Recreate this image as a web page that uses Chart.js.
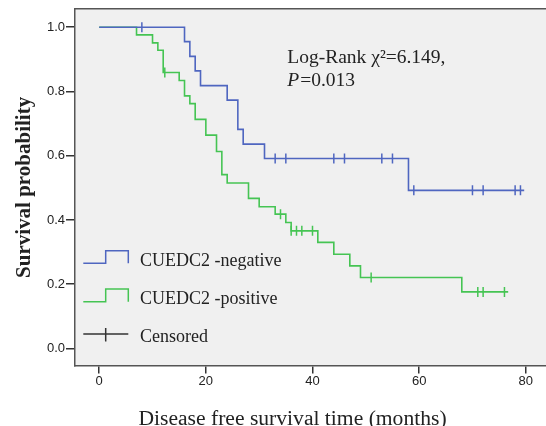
<!DOCTYPE html>
<html>
<head>
<meta charset="utf-8">
<script src="https://cdn.jsdelivr.net/npm/chart.js@4.4.1/dist/chart.umd.min.js"></script>
<style>
  html, body { margin: 0; padding: 0; background: #fff; }
  #wrap { width: 546px; height: 426px; }
</style>
</head>
<body>
<div id="wrap"><canvas id="kmChart" width="546" height="426"></canvas></div>
<script>
// 생존곡선 데이터
const negTimes = [0, 16, 17, 18, 19, 24, 26, 27, 31, 58, 79.7];
const negSurv  = [1, 0.955, 0.909, 0.864, 0.818, 0.773, 0.682, 0.636, 0.591, 0.492, 0.492];
const negCensorTimes = [8, 33, 35, 44, 46, 53, 55, 59, 70, 72, 78, 79];

const posTimes = [0, 7, 10, 11, 12, 15, 16, 17, 18, 20, 22, 23, 24, 28, 30, 33, 35, 36, 41, 44, 47, 49, 68, 76.7];
const posSurv  = [1, 0.976, 0.951, 0.928, 0.859, 0.834, 0.786, 0.762, 0.713, 0.664, 0.613, 0.541, 0.515,
                  0.467, 0.441, 0.418, 0.392, 0.366, 0.330, 0.293, 0.257, 0.221, 0.176, 0.176];
const posCensorTimes = [12.3, 34, 36, 37, 38, 40, 51, 71, 72, 76];

const xTicks = [0, 20, 40, 60, 80];
const yTicks = [0, 0.2, 0.4, 0.6, 0.8, 1.0];

const seriesLabels = ['CUEDC2 -negative', 'CUEDC2 -positive', 'Censored'];
const statLine1 = 'Log-Rank \u03C7\u00B2=6.149,';
const statLine2 = '=0.013';

const BLUE = '#4f66c0';
const GREEN = '#45c453';
const SERIF = '"Liberation Serif", "DejaVu Serif", serif';

// 계단 함수 값 찾기 (검열 표시 위치용)
function survAt(times, surv, t) {
    let s = surv[0];
    for (let i = 0; i < times.length; i++) {
        if (times[i] <= t) s = surv[i];
    }
    return s;
}

const toPoints = (ts, ss) => ts.map((t, i) => ({ x: t, y: ss[i] }));
const censorPoints = (cts, ts, ss) => cts.map(t => ({ x: t, y: survAt(ts, ss, t) }));

// 배경, 테두리, 범례, 통계 문구 그리기
const decorPlugin = {
    id: 'decor',
    beforeDraw(chart) {
        const { ctx, chartArea: a } = chart;
        ctx.save();
        ctx.fillStyle = '#f0f0f0';
        ctx.fillRect(a.left, a.top, a.right - a.left, a.bottom - a.top);
        ctx.restore();
    },
    afterDraw(chart) {
        const { ctx, chartArea: a } = chart;
        ctx.save();
        // 위쪽 테두리
        ctx.strokeStyle = '#555';
        ctx.lineWidth = 1.5;
        ctx.beginPath();
        ctx.moveTo(a.left, a.top);
        ctx.lineTo(a.right, a.top);
        ctx.stroke();

        // 범례
        const x0 = 83.3, xm = 105.7, x1 = 128.3;
        const stepSym = (color, low, high) => {
            ctx.strokeStyle = color;
            ctx.lineWidth = 1.5;
            ctx.beginPath();
            ctx.moveTo(x0, low);
            ctx.lineTo(xm, low);
            ctx.lineTo(xm, high);
            ctx.lineTo(x1, high);
            ctx.lineTo(x1, low);
            ctx.stroke();
        };
        stepSym(BLUE, 263.3, 250.7);
        stepSym(GREEN, 301.7, 289);
        ctx.strokeStyle = '#333';
        ctx.beginPath();
        ctx.moveTo(x0, 334);
        ctx.lineTo(x1, 334);
        ctx.moveTo(xm, 328);
        ctx.lineTo(xm, 341.5);
        ctx.stroke();

        ctx.fillStyle = '#222';
        ctx.font = '18px ' + SERIF;
        ctx.textAlign = 'left';
        ctx.textBaseline = 'alphabetic';
        ctx.fillText(seriesLabels[0], 140, 266);
        ctx.fillText(seriesLabels[1], 140, 304.3);
        ctx.fillText(seriesLabels[2], 140, 342.3);

        // 통계 문구
        ctx.font = '19.5px ' + SERIF;
        ctx.fillText(statLine1, 287.3, 63);
        ctx.font = 'italic 19.5px ' + SERIF;
        ctx.fillText('P', 287.3, 85.5);
        const pw = ctx.measureText('P').width;
        ctx.font = '19.5px ' + SERIF;
        ctx.fillText(statLine2, 287.3 + pw + 1, 85.5);

        // x축 제목
        ctx.font = '21.6px ' + SERIF;
        ctx.textAlign = 'center';
        ctx.fillText('Disease free survival time (months)', 292.5, 424.5);
        ctx.restore();
    }
};

const ctx = document.getElementById('kmChart');
const kmChart = new Chart(ctx, {
    type: 'line',
    data: {
        datasets: [
            {
                label: seriesLabels[0],
                data: toPoints(negTimes, negSurv),
                borderColor: BLUE,
                borderWidth: 1.6,
                stepped: 'before',
                pointRadius: 0,
                fill: false
            },
            {
                label: seriesLabels[1],
                data: toPoints(posTimes, posSurv),
                borderColor: GREEN,
                borderWidth: 1.6,
                stepped: 'before',
                pointRadius: 0,
                fill: false
            },
            {
                label: 'neg censored',
                data: censorPoints(negCensorTimes, negTimes, negSurv),
                showLine: false,
                pointStyle: 'line',
                rotation: 90,
                pointRadius: 5,
                borderColor: BLUE,
                pointBorderWidth: 1.5
            },
            {
                label: 'pos censored',
                data: censorPoints(posCensorTimes, posTimes, posSurv),
                showLine: false,
                pointStyle: 'line',
                rotation: 90,
                pointRadius: 5,
                borderColor: GREEN,
                pointBorderWidth: 1.5
            }
        ]
    },
    options: {
        responsive: false,
        animation: false,
        layout: { autoPadding: false, padding: { left: 0, right: 0, top: 6.5, bottom: 0 } },
        plugins: {
            legend: { display: false },
            tooltip: { enabled: false }
        },
        scales: {
            x: {
                type: 'linear',
                min: -4.538,
                max: 83.79,
                afterBuildTicks: scale => { scale.ticks = xTicks.map(v => ({ value: v })); },
                afterFit: scale => { scale.height = 60; },
                grid: { display: true, drawOnChartArea: false, drawTicks: true, tickLength: 7.5, color: '#333', lineWidth: 1.5 },
                border: { display: true, color: '#555', width: 1.5 },
                ticks: {
                    padding: 0,
                    maxRotation: 0,
                    color: '#222',
                    font: { family: '"Liberation Sans", Arial, sans-serif', size: 13 },
                    callback: v => String(v)
                }
            },
            y: {
                type: 'linear',
                min: -0.0547,
                max: 1.0572,
                afterBuildTicks: scale => { scale.ticks = yTicks.map(v => ({ value: v })); },
                afterFit: scale => { scale.width = 75; },
                grid: { display: true, drawOnChartArea: false, drawTicks: true, tickLength: 9, color: '#333', lineWidth: 1.5 },
                border: { display: true, color: '#555', width: 1.5 },
                ticks: {
                    padding: 1,
                    color: '#222',
                    font: { family: '"Liberation Sans", Arial, sans-serif', size: 13 },
                    callback: v => Number(v).toFixed(1)
                },
                title: {
                    display: true,
                    text: 'Survival probability',
                    color: '#222',
                    padding: { top: 12.4, bottom: 0 },
                    font: { family: SERIF, size: 21, weight: 'bold' }
                }
            }
        }
    },
    plugins: [decorPlugin]
});
</script>
</body>
</html>
